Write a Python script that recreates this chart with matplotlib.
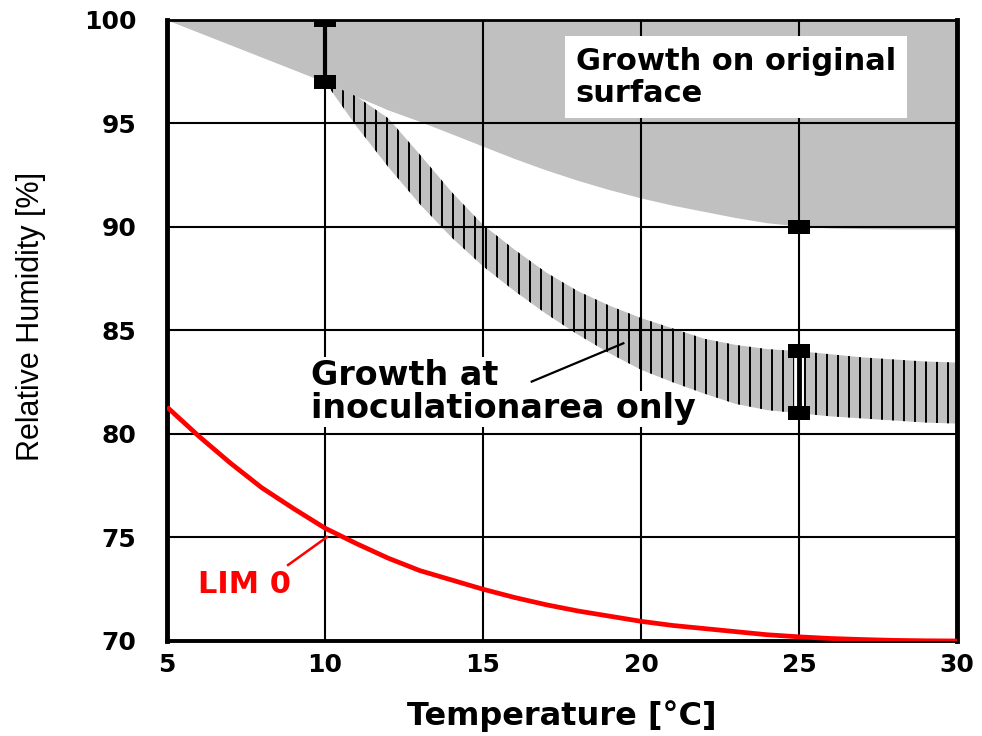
import numpy as np
import matplotlib
matplotlib.use("Agg")
import matplotlib.pyplot as plt
from matplotlib.patches import Polygon
import matplotlib.patheffects as pe

# -------------------------------
# Data
# -------------------------------
# lower limit of "growth on original surface" (grey area up to 100 %)
surface_temp = [5, 6, 7, 8, 9, 10, 11, 12, 13, 14, 15, 16, 17, 18, 19, 20,
                21, 22, 23, 24, 25, 26, 27, 28, 29, 30]
surface_rh = [100.0, 99.4, 98.8, 98.2, 97.6, 97.0, 96.3, 95.65, 95.1, 94.5,
              93.9, 93.3, 92.75, 92.25, 91.8, 91.4, 91.05, 90.75, 90.45, 90.2,
              90.05, 89.95, 89.92, 89.9, 89.9, 89.9]

# hatched band "growth at inoculation area only"
band_temp = [10, 11, 12, 13, 14, 15, 16, 17, 18, 19, 20, 21, 22, 23, 24, 25,
             26, 27, 28, 29, 30]
band_upper = [97.0, 96.3, 95.25, 93.5, 91.7, 90.1, 88.9, 87.8, 86.9, 86.2,
              85.6, 85.1, 84.6, 84.3, 84.1, 84.0, 83.85, 83.7, 83.6, 83.5, 83.45]
band_lower = [97.0, 94.85, 92.9, 91.1, 89.5, 88.1, 86.9, 85.8, 84.8, 83.9,
              83.1, 82.5, 81.95, 81.45, 81.15, 81.0, 80.85, 80.75, 80.65,
              80.55, 80.5]

# LIM 0 curve
lim_temp = [5, 6, 7, 8, 9, 10, 11, 12, 13, 14, 15, 16, 17, 18, 19, 20,
            21, 22, 23, 24, 25, 26, 27, 28, 29, 30]
lim_rh = [81.3, 79.9, 78.6, 77.4, 76.4, 75.45, 74.7, 74.0, 73.4, 72.95, 72.5,
          72.1, 71.75, 71.45, 71.2, 70.95, 70.75, 70.6, 70.45, 70.3, 70.2,
          70.12, 70.07, 70.03, 70.01, 70.0]

# measured points (black squares)
point_temp = [10, 10, 25, 25, 25]
point_rh = [100, 97, 90, 84, 81]

x_ticks = [5, 10, 15, 20, 25, 30]
y_ticks = [70, 75, 80, 85, 90, 95, 100]

GREY = '#c0c0c0'

# -------------------------------
# Plotting
# -------------------------------
fig = plt.figure(figsize=(9.82, 7.36), dpi=100)
ax = fig.add_axes([0.1701, 0.1291, 0.8045, 0.8438])

# grey area: growth on original surface
ax.fill_between(surface_temp, surface_rh, 100, color=GREY, lw=0, zorder=1)

# hatched band
verts = np.column_stack([np.r_[band_temp, band_temp[::-1]],
                         np.r_[band_upper, band_lower[::-1]]])
band = Polygon(verts, closed=True, fc=GREY, ec='none', zorder=1.5)
ax.add_patch(band)
hatch = ax.vlines(np.arange(10.23, 30, 0.348), 79, 98, colors='black',
                  lw=1.4, zorder=1.6)
hatch.set_clip_path(band)

# grid on top of the areas
ax.set_axisbelow(False)
ax.grid(True, color='black', lw=1.5)

# LIM 0
ax.plot(lim_temp, lim_rh, color='#ff0000', lw=3.4, zorder=3,
        solid_capstyle='butt')

# vertical bars between measured points
ax.plot([point_temp[0], point_temp[1]], [point_rh[0], point_rh[1]],
        color='black', lw=3, zorder=3.5)
ax.plot([point_temp[3], point_temp[4]], [point_rh[3], point_rh[4]],
        color='black', lw=3.5, zorder=3.5,
        path_effects=[pe.withStroke(linewidth=7, foreground='white')])

rect_marker = [(-1, -0.62), (1, -0.62), (1, 0.62), (-1, 0.62), (-1, -0.62)]
ax.plot(point_temp, point_rh, ls='none', marker=rect_marker, ms=16,
        mfc='black', mec='black', mew=0, zorder=4)

# annotations (va='baseline' sits on the last line of the text)
ax.text(17.93, 96.05, 'Growth on original\nsurface', fontsize=22,
        fontweight='bold', va='baseline', ha='left', linespacing=1.12,
        zorder=5,
        bbox=dict(boxstyle='square,pad=0.35', fc='white', ec='none'))

box = dict(boxstyle='square,pad=0.05', fc='white', ec='none')
ax.text(9.55, 82.37, 'Growth at', fontsize=24, fontweight='bold',
        va='baseline', ha='left', zorder=5, bbox=box)
ax.text(9.55, 80.76, 'inoculationarea only', fontsize=24, fontweight='bold',
        va='baseline', ha='left', zorder=5, bbox=box)
ax.plot([16.54, 19.44], [82.53, 84.38], color='black', lw=1.6, zorder=5)

ax.text(5.98, 72.32, 'LIM 0', fontsize=22, fontweight='bold',
        color='#ff0000', va='baseline', ha='left', zorder=5)
ax.plot([8.83, 10.06], [73.67, 75.02], color='#ff0000', lw=1.8, zorder=5)

# axes
ax.set_xlim(5, 30)
ax.set_ylim(70, 100)
ax.set_xticks(x_ticks)
ax.set_yticks(y_ticks)
ax.tick_params(length=0, labelsize=18)
ax.tick_params(axis='x', pad=9)
ax.tick_params(axis='y', pad=22)
for lab in ax.get_xticklabels() + ax.get_yticklabels():
    lab.set_fontweight('bold')

ax.spines['left'].set_linewidth(3.5)
ax.spines['right'].set_linewidth(3.5)
ax.spines['bottom'].set_linewidth(2.8)
ax.spines['top'].set_linewidth(2.0)

ax.set_xlabel('Temperature [°C]', fontsize=23, fontweight='bold')
ax.xaxis.set_label_coords(0.5, -0.095)
ax.set_ylabel('Relative Humidity [%]', fontsize=22, family='Liberation Sans')
ax.yaxis.set_label_coords(-0.153, 0.523)

fig.savefig('out.png', dpi=100)
